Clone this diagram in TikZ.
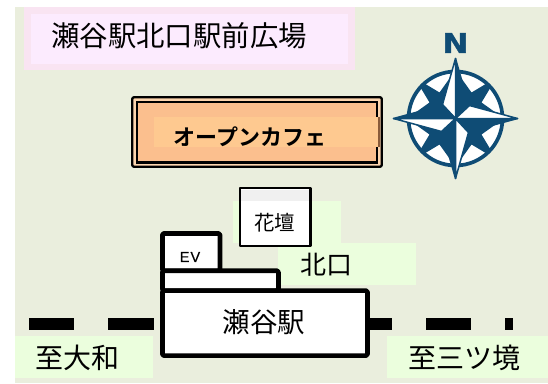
\documentclass[tikz,border=0pt]{standalone}
\usepackage{fontspec}
\setmainfont{Liberation Sans}
\newfontfamily\jp{Noto Sans CJK JP}
\newfontfamily\jpb{Noto Sans CJK JP Bold}
\newfontfamily\nfont[FakeStretch=1.15,FakeBold=1.2]{DejaVu Sans Bold}
\newfontfamily\evfont[FakeBold=0.4]{Liberation Sans}
\definecolor{bgc}{HTML}{EAEEDD}
\definecolor{pinko}{HTML}{F9E4F2}
\definecolor{pinki}{HTML}{FCEBFE}
\definecolor{greenb}{HTML}{EBFEDD}
\definecolor{oranged}{HTML}{FBBF8E}
\definecolor{orangel}{HTML}{FEC990}
\definecolor{orangeg}{HTML}{FDD5AE}
\definecolor{brownb}{HTML}{8A5B3A}
\definecolor{navy}{HTML}{0F4C75}
\tikzset{
  wall/.style={draw=black,line width=4.7pt,fill=white,line join=round},
  thinbox/.style={draw=black,line width=2.5pt,fill=white,line join=round},
  track/.style={fill=black},
  patch/.style={fill=greenb},
  label/.style={inner sep=0pt,text=black},
  mainpt/.style={draw=navy,line width=1.5pt,line join=round},
}
\begin{document}
\begin{tikzpicture}[x=1pt,y=-1pt]
\useasboundingbox (0,0) rectangle (548,383);
\fill[white] (0,0) rectangle (548,383);
\fill[bgc] (15,7) rectangle (548,383);
% title
\fill[pinko] (24,7) rectangle (355,70);
\fill[pinki] (31,14) rectangle (348,64);
\node[label,font={\jp\fontsize{28.4}{28}\selectfont}] (title) at (179,35.5) {瀬谷駅北口駅前広場};
% green patches
\fill[patch] (15,336) rectangle (153,378);
\fill[patch] (387,336) rectangle (548,378);
\fill[patch] (278,243) rectangle (416,285);
\fill[patch] (233,201) rectangle (341,243);
% cafe
\draw[draw=black,line width=2.3pt,fill=orangeg,rounded corners=2pt] (132.2,97.2) rectangle (381.8,166.8);
\draw[draw=black,line width=2.2pt,fill=oranged] (137,102) rectangle (377,162.5);
\fill[orangel] (154,117) rectangle (377.6,147);
\fill[brownb] (377.6,117) rectangle (380.3,147);
\node[label,font={\jpb\fontsize{22}{22}\selectfont}] (cafe) at (250,137) {オープンカフェ};
% flower bed
\draw[thinbox] (240,188.2) rectangle (310.5,246);
\fill[black!6] (241.3,189.5) rectangle (309.2,201);
\node[label,font={\jp\fontsize{20.5}{21}\selectfont}] (bed) at (274.5,223) {花壇};
% north exit label
\node[label,font={\jp\fontsize{26}{26}\selectfont}] (exit) at (326,265) {北口};
% station
\draw[wall,rounded corners=1.5pt] (162.4,233.4) rectangle (220,271);
\draw[wall,rounded corners=1.5pt] (162.4,270.7) rectangle (278.4,290.6);
\draw[wall,rounded corners=1.5pt] (162.4,290.6) rectangle (367.5,355.6);
\node[label,font={\evfont\fontsize{14.5}{14}\selectfont}] (ev) at (190,257) {E\kern1pt V};
\node[label,font={\jp\fontsize{27.5}{28}\selectfont}] (station) at (264,322) {瀬谷駅};
% tracks
\fill[track] (29,318) rectangle (74,330);
\fill[track] (108,318) rectangle (154,330);
\fill[track] (370,318) rectangle (391.5,330);
\fill[track] (426,318) rectangle (471,330);
\fill[track] (505,318) rectangle (513,330);
% direction labels
\node[label,font={\jp\fontsize{28}{28}\selectfont}] (west) at (77,358) {至大和};
\node[label,font={\jp\fontsize{28}{28}\selectfont}] (east) at (464.5,358) {至三ツ境};
% compass
\node[label,text=navy,font={\nfont\fontsize{27}{27}\selectfont}] (north) at (455.5,43) {N};
\begin{scope}[shift={(455.5,118.5)}]
  \draw[draw=navy,line width=3.7pt,fill=white] (0,0) circle (47);
  \foreach \a in {0,90,180,270}{
    \begin{scope}[rotate=\a]
      \fill[navy] (0,0) -- (-6,-40) -- (-16,-26) -- (-31,-35) -- (-35,-31) -- (-26,-16) -- (-40,-6) -- cycle;
    \end{scope}
  }
  \foreach \a/\t in {0/60,-90/62,-180/60,-270/62}{
    \begin{scope}[rotate=\a]
      \draw[mainpt,fill=navy] (0,-\t) -- (13,-14) -- (0,0) -- cycle;
      \draw[mainpt,fill=white] (0,-\t) -- (-13,-14) -- (0,0) -- cycle;
    \end{scope}
  }
\end{scope}
\end{tikzpicture}
\end{document}
